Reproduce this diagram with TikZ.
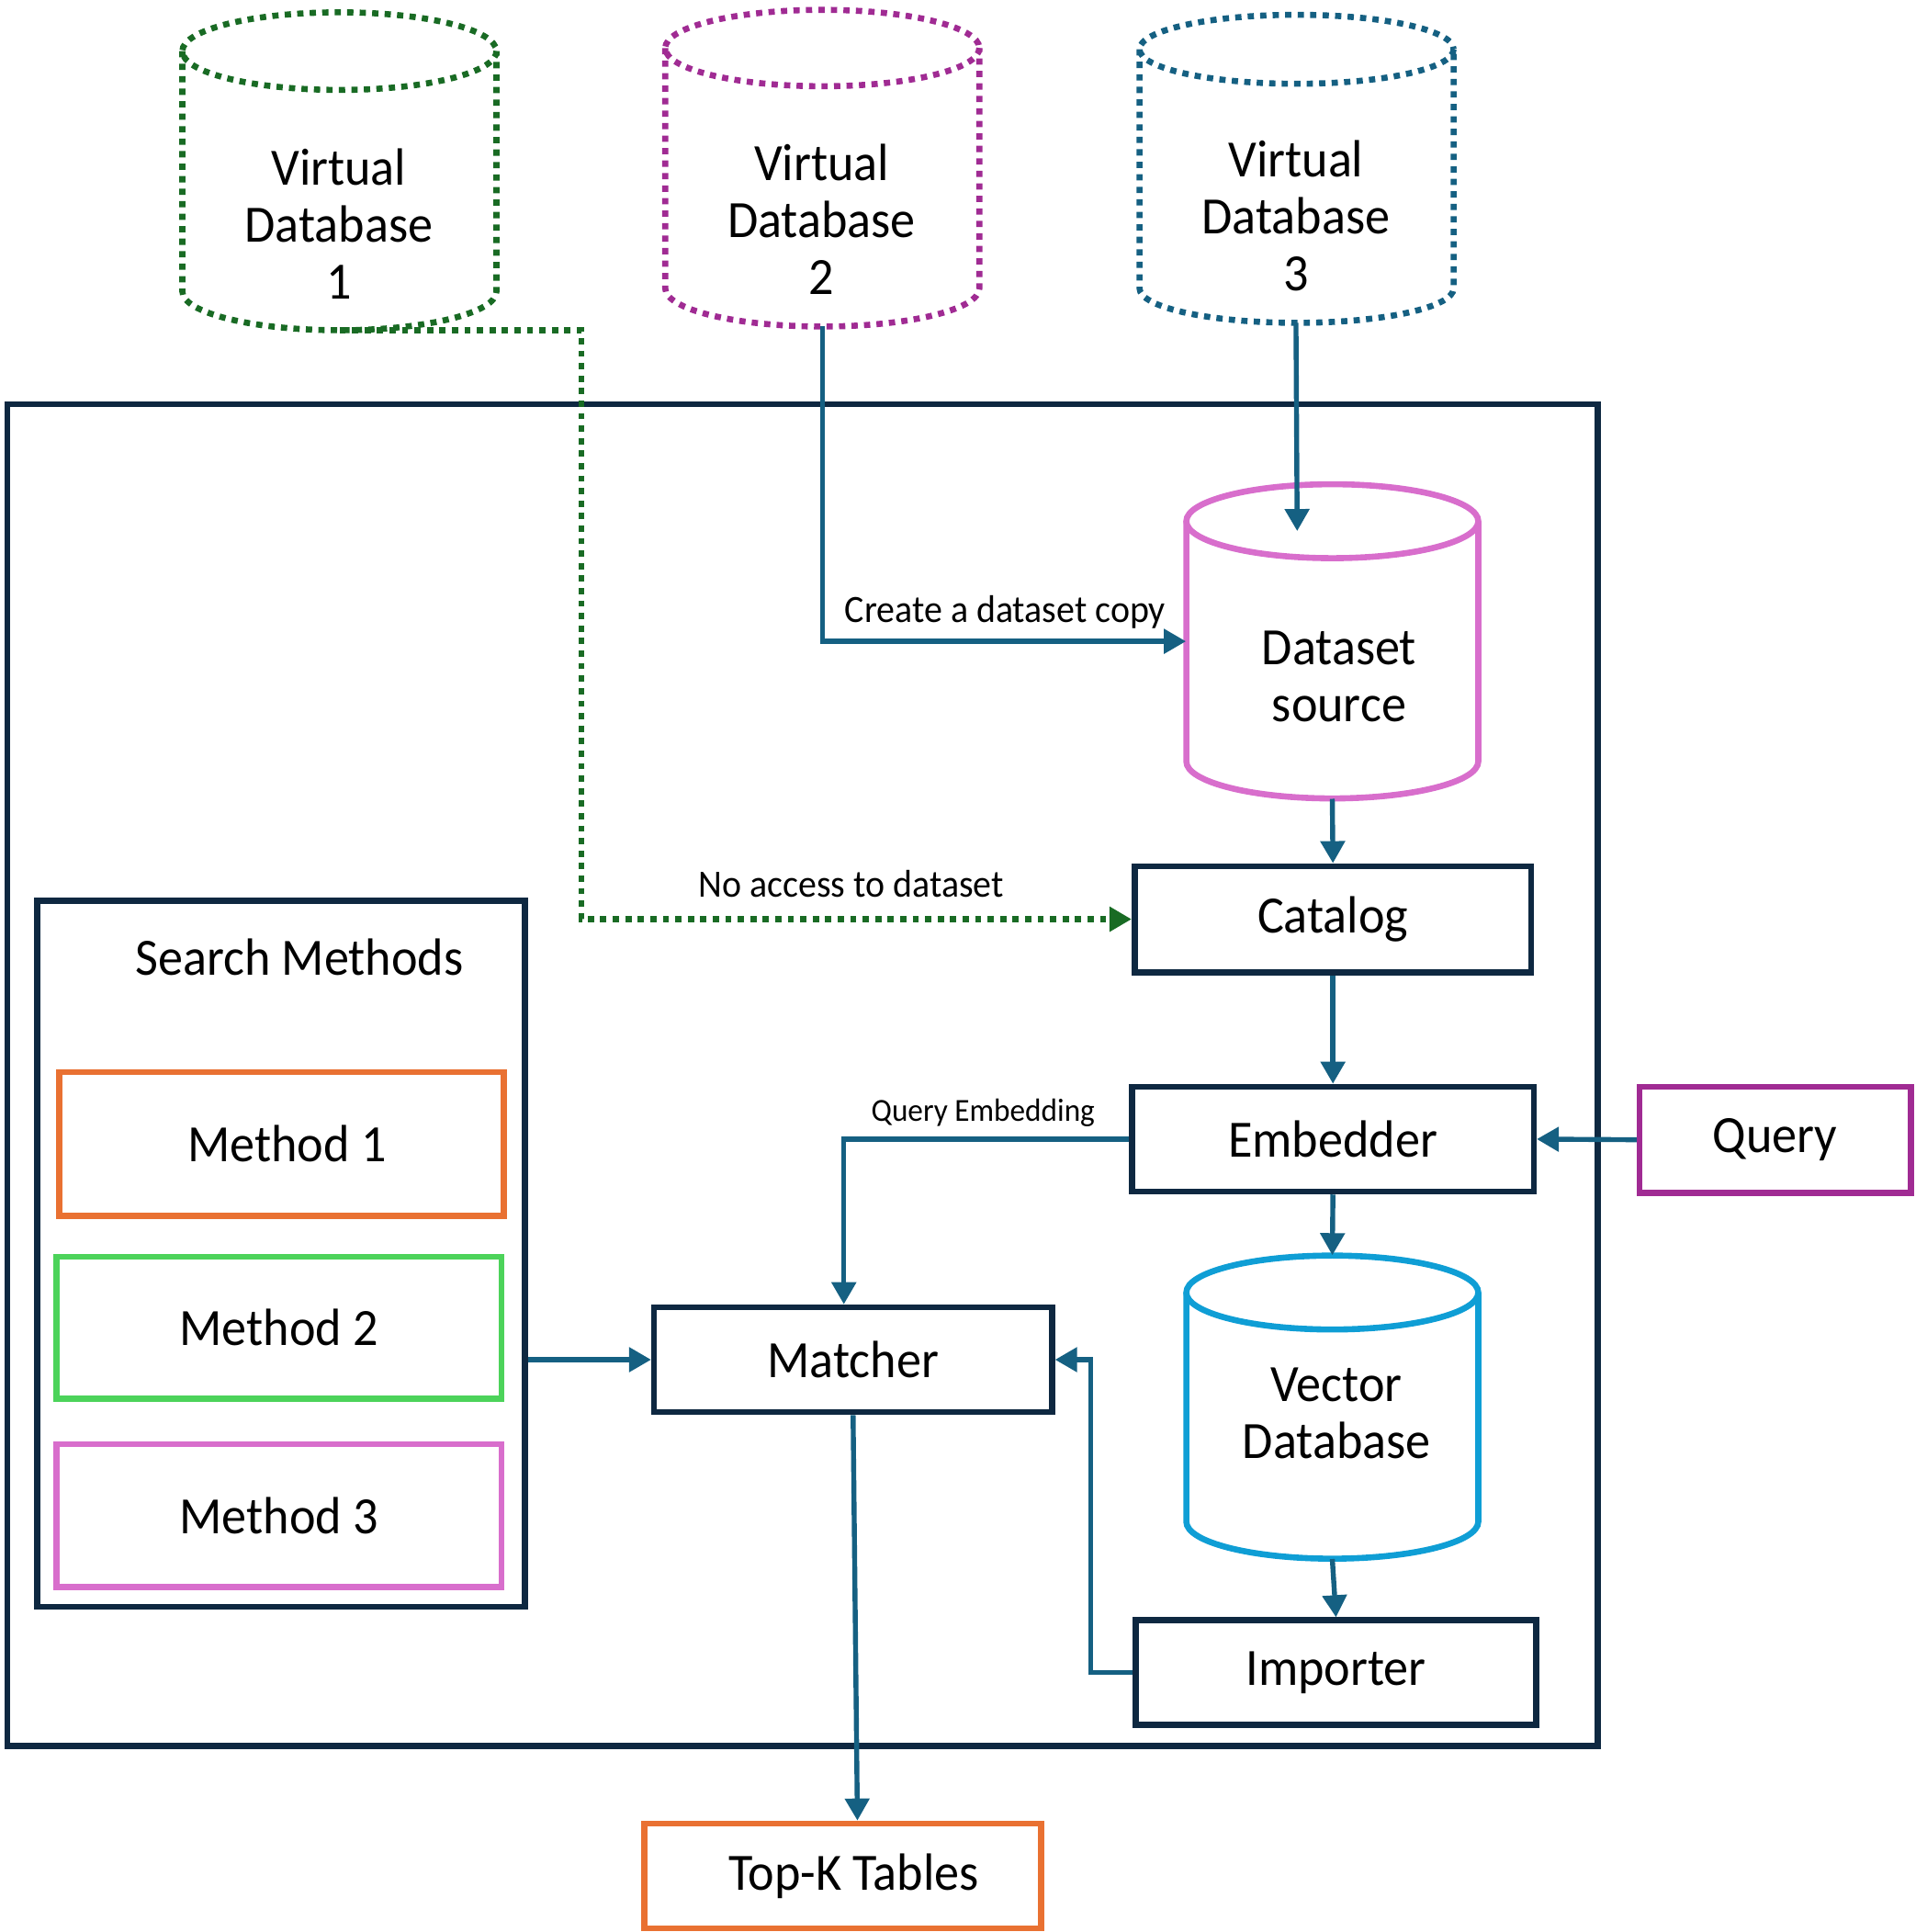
\documentclass[tikz,border=0pt]{standalone}
\usepackage{fontspec}
\setmainfont{Carlito}[FakeStretch=0.95]
\usetikzlibrary{arrows.meta,calc}
\definecolor{navy}{HTML}{0E2841}
\definecolor{teal}{HTML}{156082}
\definecolor{orng}{HTML}{E97132}
\definecolor{lgreen}{HTML}{4CD35A}
\definecolor{pink}{HTML}{D86ECC}
\definecolor{purp}{HTML}{A02B93}
\definecolor{sky}{HTML}{0F9ED5}
\definecolor{dgreen}{HTML}{196B24}
\def\U{0.6704pt}
\newcommand{\mycyl}[6]{%
  \draw[#1] (#2-#3,#4+#6) -- (#2-#3,#5-#6)
    .. controls (#2-#3,#5-0.4477*#6) and (#2-0.5523*#3,#5) .. (#2,#5)
    .. controls (#2+0.5523*#3,#5) and (#2+#3,#5-0.4477*#6) .. (#2+#3,#5-#6)
    -- (#2+#3,#4+#6);
  \draw[#1] (#2,#4+#6) ellipse [x radius=#3, y radius=#6];
}
\tikzset{
  bigtext/.style={font=\fontsize{28.5}{31}\selectfont, align=center},
  stepbox/.style={draw=navy, line width=3.3pt, bigtext, inner sep=0pt},
  colbox/.style={draw=#1, line width=3.3pt, bigtext, inner sep=0pt},
  conn/.style={draw=teal, line width=2.7pt, -{Triangle[length=12pt,width=13pt]}},
  dotconn/.style={draw=dgreen, line width=3.3pt, dash pattern=on 3.4pt off 3.4pt, -{Triangle[length=12pt,width=13pt]}},
  lbl/.style={font=\fontsize{21}{23}\selectfont},
  slbl/.style={font=\fontsize{17.5}{19}\selectfont},
  dotcyl/.style={draw=#1, line width=3.3pt, dash pattern=on 3.4pt off 3.4pt},
  solcyl/.style={draw=#1, line width=3.3pt},
}
\begin{document}
\begin{tikzpicture}[x=0.6704pt, y=-0.6704pt]
\useasboundingbox (0,0) rectangle (1555,1568);

% outer frame
\draw[navy, line width=3.3pt] (6,328) rectangle (1297,1417);

% virtual databases
\mycyl{dotcyl=dgreen}{275.5}{127.5}{10}{268}{31.5}
\mycyl{dotcyl=purp}{667.5}{127.5}{8}{265}{31}
\mycyl{dotcyl=teal}{1052.5}{127.5}{12}{262}{28}
\node[bigtext] (vdb1) at (275,182) {Virtual\\Database\\1};
\node[bigtext] (vdb2) at (667,178) {Virtual\\Database\\2};
\node[bigtext] (vdb3) at (1052,175) {Virtual\\Database\\3};
\coordinate (vdb1b) at (275.5,268);
\coordinate (vdb2b) at (667.5,265);
\coordinate (vdb3b) at (1052,262);

% dataset source
\mycyl{solcyl=pink}{1081.5}{118.5}{393}{648}{30}
\node[minimum width=237*\U, minimum height=255*\U, inner sep=0pt] (ds) at (1081.5,520.5) {};
\node[bigtext] (dst) at (1087,549) {Dataset\\source};
\coordinate (dsin) at (1053,431);

% vector database
\mycyl{solcyl=sky}{1081.5}{118.5}{1019}{1265}{30}
\node[minimum width=237*\U, minimum height=246*\U, inner sep=0pt] (vdb) at (1081.5,1142) {};
\node[bigtext] (vdbt) at (1085,1147) {Vector\\Database};

% boxes
\node[stepbox, minimum width=322*\U, minimum height=86*\U] (cat) at (1082,746) {Catalog};
\node[stepbox, minimum width=326*\U, minimum height=85*\U] (emb) at (1082,924.5) {Embedder};
\node[colbox=purp, minimum width=220*\U, minimum height=86*\U] (query) at (1441,925) {Query};
\node[stepbox, minimum width=325*\U, minimum height=85*\U] (imp) at (1084.5,1357.5) {Importer};
\node[stepbox, minimum width=323*\U, minimum height=85*\U] (match) at (692.5,1103.5) {Matcher};
\node[colbox=orng, minimum width=322*\U, minimum height=85*\U] (topk) at (684,1522.5) {\hspace*{12pt}Top-K Tables};

% search methods
\node[stepbox, minimum width=396*\U, minimum height=573*\U] (search) at (228,1017.5) {};
\node[bigtext] (stitle) at (243,777) {Search Methods};
\node[colbox=orng, minimum width=361*\U, minimum height=117*\U] (m1) at (228.5,928.5) {\hspace*{6pt}Method 1};
\node[colbox=lgreen, minimum width=361*\U, minimum height=115*\U] (m2) at (226.5,1077.5) {Method 2};
\node[colbox=pink, minimum width=361*\U, minimum height=116*\U] (m3) at (226.5,1230) {Method 3};

% connectors
\draw[dotconn] (vdb1b) -- (472,268) |- (cat.west);
\node[lbl] (l1) at (691,717) {No access to dataset};
\draw[conn] (vdb2b) |- (ds.west);
\node[lbl] (l2) at (816,497) {Create a dataset copy};
\draw[conn] (vdb3b) -- (dsin);
\draw[conn] (ds.south) -- (cat.north);
\draw[conn] (cat.south) -- (emb.north);
\draw[conn] (query.west) -- (emb.east);
\draw[conn] (emb.west) -| ($(match.north)+(-7.5,0)$);
\node[slbl] (l3) at (798,903) {Query Embedding};
\draw[conn] (emb.south) -- (vdb.north);
\draw[conn] (vdb.south) -- (imp.north);
\draw[conn] (imp.west) -- ++(-34,0) |- (match.east);
\draw[conn] (search.east |- match.west) -- (match.west);
\draw[conn] (match.south) -- ($(topk.north)+(12,0)$);
\end{tikzpicture}
\end{document}
